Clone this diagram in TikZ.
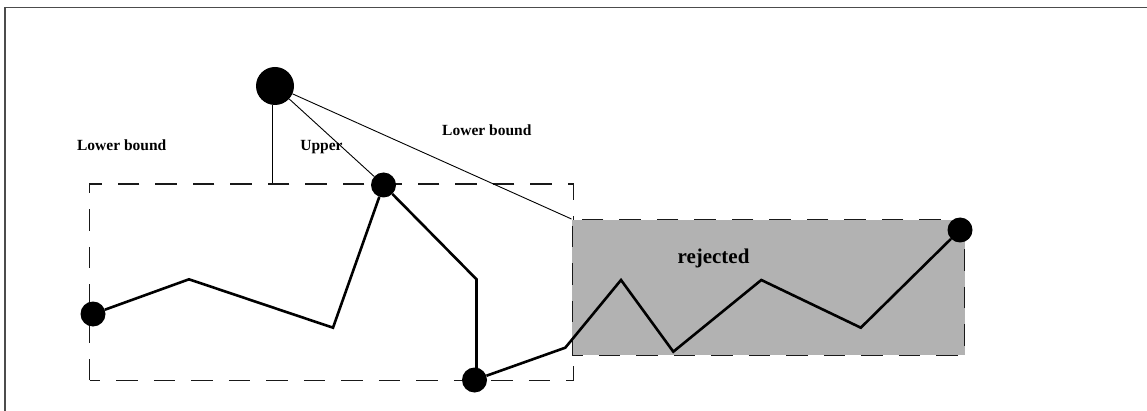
\documentclass[tikz,border=0pt]{standalone}
\usepackage{fontspec}
\setmainfont{Liberation Serif}
\begin{document}
\begin{tikzpicture}[x=1pt, y=-1pt,
    vertex/.style={circle, fill, inner sep=0pt, minimum size=25pt},
    bound/.style={draw=black!90, line width=1.4pt, dash pattern=on 21.5pt off 16pt, dash phase=10.75pt, inner sep=0pt, anchor=north west},
    walk/.style={line width=2.6pt, line join=miter},
    link/.style={line width=0.9pt},
    lbl/.style={font=\bfseries\fontsize{15.5}{18}\selectfont}]

    \useasboundingbox (0,0) rectangle (1147,411);

    % Frame
    \draw[line width=1.3pt, black!70] (5,411) -- (5,7.5) -- (1147,7.5);

    % Boxes
    \node[bound, minimum width=484pt, minimum height=196pt] (window) at (89,183.5) {};
    \node[bound, fill=black!30, minimum width=392.5pt, minimum height=135.5pt] (rej) at (571.5,219) {};

    % Nodes
    \node[vertex, minimum size=38pt] (root) at (275,86) {};
    \node[vertex] (a) at (93,314) {};
    \node[vertex] (b) at (383.5,185) {};
    \node[vertex] (c) at (474.5,380) {};
    \node[vertex] (d) at (960,230) {};
    \coordinate (foot) at (272.5,183.5);

    % Labels
    \node[lbl] (lowleft) at (121.7,145) {Lower bound};
    \node[lbl] (upper) at (321.5,146.7) {Upper};
    \node[lbl] (lowright) at (486.8,130) {Lower bound};
    \node[font=\bfseries\fontsize{21}{25}\selectfont] (rejlabel) at (713.5,258.3) {rejected};

    % Edges
    \draw[link] (root.south -| foot) -- (foot);
    \draw[link] (root) -- (b);
    \draw[link] (root) -- (rej.north west);
    \draw[walk] (a) -- (189,279.3) -- (333,327.7) -- (b);
    \draw[walk] (b) -- (476.5,279.3) -- (476.5,370) -- (c);
    \draw[walk] (c) -- (565.3,347.7) -- (621,280) -- (673.3,351.7)
        -- (761.3,280) -- (860.8,327.7) -- (d);

\end{tikzpicture}
\end{document}
